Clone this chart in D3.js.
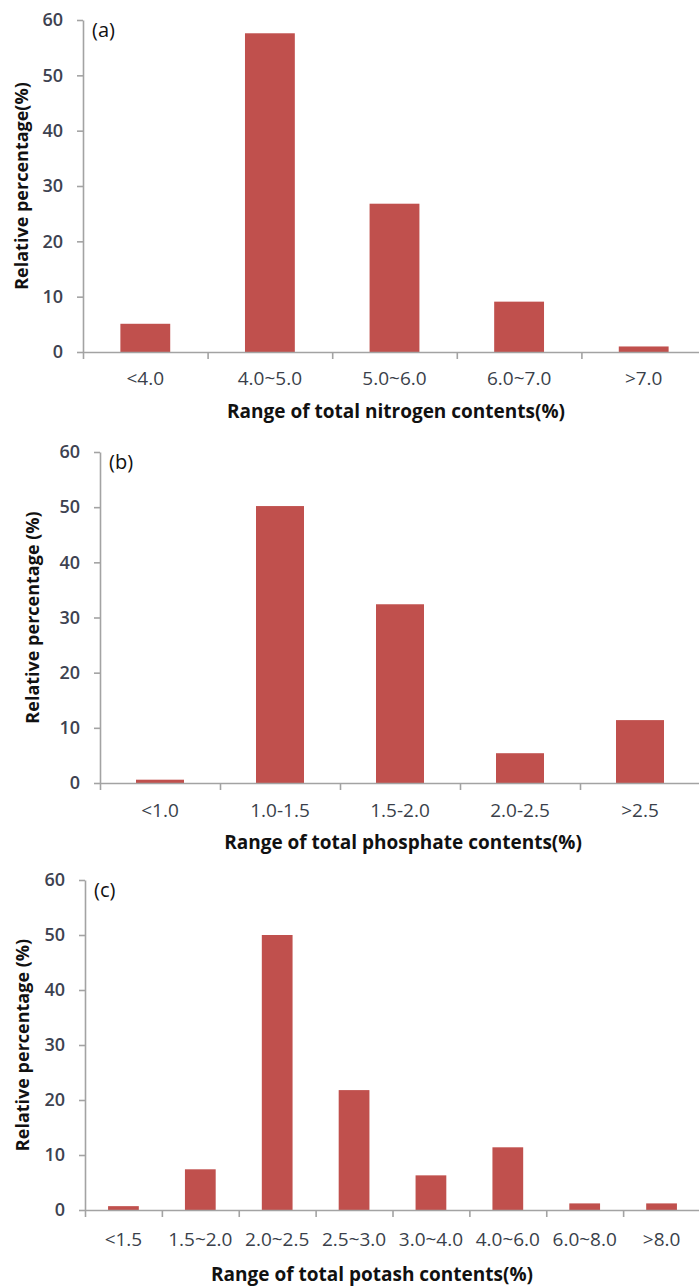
<!DOCTYPE html>
<html>
<head>
<meta charset="utf-8">
<script src="https://cdn.jsdelivr.net/npm/d3@7"></script>
<style>
  body { margin: 0; background: #fff; }
  svg { display: block; font-family: "Open Sans", sans-serif; }
</style>
</head>
<body>
<script>
'use strict';

// panel (a) nitrogen
const nitrogenCats = ["<4.0", "4.0~5.0", "5.0~6.0", "6.0~7.0", ">7.0"];
const nitrogenVals = [5.1, 57.6, 26.8, 9.1, 1.0];
// panel (b) phosphate
const phosphateCats = ["<1.0", "1.0-1.5", "1.5-2.0", "2.0-2.5", ">2.5"];
const phosphateVals = [0.6, 50.2, 32.4, 5.4, 11.4];
// panel (c) potash
const potashCats = ["<1.5", "1.5~2.0", "2.0~2.5", "2.5~3.0", "3.0~4.0", "4.0~6.0", "6.0~8.0", ">8.0"];
const potashVals = [0.7, 7.4, 50.0, 21.8, 6.3, 11.4, 1.2, 1.2];

const yTicks = [0, 10, 20, 30, 40, 50, 60];
const barColor = "#C0504D";
const axisColor = "#a3a3a3";

const svg = d3.select('body')
  .append('svg')
  .attr('width', 699)
  .attr('height', 1286);

drawPanel({
  cats: nitrogenCats, vals: nitrogenVals, tag: "(a)",
  xTitle: "Range of total nitrogen contents(%)", yTitle: "Relative percentage(%)",
  left: 83, right: 706, top: 20, bottom: 352,
  labY: 380, xTitleY: 413, xTitleX: 396, yTitleX: 23
});

drawPanel({
  cats: phosphateCats, vals: phosphateVals, tag: "(b)",
  xTitle: "Range of total phosphate contents(%)", yTitle: "Relative percentage (%)",
  left: 100, right: 700, top: 452, bottom: 783,
  labY: 812, xTitleY: 844, xTitleX: 403, yTitleX: 34
});

drawPanel({
  cats: potashCats, vals: potashVals, tag: "(c)",
  xTitle: "Range of total potash contents(%)", yTitle: "Relative percentage (%)",
  left: 85, right: 700, top: 880, bottom: 1210,
  labY: 1241, xTitleY: 1276, xTitleX: 372, yTitleX: 24
});

function drawPanel(p) {
  const g = svg.append('g');

  const y = d3.scaleLinear().domain([0, 60]).range([p.bottom, p.top]);
  const x = d3.scaleBand().domain(p.cats).range([p.left, p.right])
    .paddingInner(0.6).paddingOuter(0.3);
  // linear scale for the tick marks between categories
  const xEdge = d3.scaleLinear().domain([0, p.cats.length]).range([p.left, p.right]);

  // bars
  g.selectAll('.bar')
    .data(p.vals)
    .enter()
    .append('rect')
    .attr('x', (d, i) => x(p.cats[i]))
    .attr('y', (d) => y(d))
    .attr('width', x.bandwidth())
    .attr('height', (d) => y(0) - y(d))
    .attr('fill', barColor);

  // y axis
  const yAxis = g.append('g')
    .attr('transform', 'translate(' + p.left + ',0)')
    .call(d3.axisLeft(y).tickValues(yTicks).tickSize(6).tickSizeOuter(0));
  yAxis.select('.domain').attr('stroke', axisColor).attr('stroke-width', 1.6);
  yAxis.selectAll('.tick line').attr('stroke', axisColor).attr('stroke-width', 1.6);
  yAxis.selectAll('.tick text')
    .attr('x', -20)
    .attr('fill', '#3d4250')
    .style('font-size', '18px')
    .style('font-weight', '600')
    .style('font-family', '"Open Sans", sans-serif');

  // x axis line and ticks
  const xAxis = g.append('g')
    .attr('transform', 'translate(0,' + p.bottom + ')')
    .call(d3.axisBottom(xEdge).tickValues(d3.range(p.cats.length + 1))
      .tickFormat('').tickSize(7).tickSizeOuter(0));
  xAxis.select('.domain').attr('stroke', axisColor).attr('stroke-width', 1.6);
  xAxis.selectAll('.tick line').attr('stroke', axisColor).attr('stroke-width', 1.6);

  // category labels
  g.selectAll('.cat')
    .data(p.cats)
    .enter()
    .append('text')
    .attr('x', (d) => x(d) + x.bandwidth() / 2)
    .attr('y', p.labY)
    .attr('text-anchor', 'middle')
    .attr('dominant-baseline', 'middle')
    .attr('fill', '#3a3f4a')
    .style('font-size', '19px')
    .style('font-weight', '500')
    .text((d) => d);

  // x title
  g.append('text')
    .attr('x', p.xTitleX)
    .attr('y', p.xTitleY)
    .attr('text-anchor', 'middle')
    .attr('dominant-baseline', 'middle')
    .style('font-size', '19px')
    .style('font-weight', '700')
    .attr('fill', '#111')
    .text(p.xTitle);

  // y title
  g.append('text')
    .attr('transform', 'translate(' + p.yTitleX + ',' + ((p.top + p.bottom) / 2) + ')rotate(-90)')
    .attr('text-anchor', 'middle')
    .attr('dominant-baseline', 'middle')
    .style('font-size', '18px')
    .style('font-weight', '700')
    .attr('fill', '#111')
    .text(p.yTitle);

  // panel tag
  g.append('text')
    .attr('x', p.left + 9)
    .attr('y', p.top + 12)
    .attr('dominant-baseline', 'middle')
    .style('font-size', '20px')
    .attr('fill', '#111')
    .text(p.tag);
}
</script>
</body>
</html>
